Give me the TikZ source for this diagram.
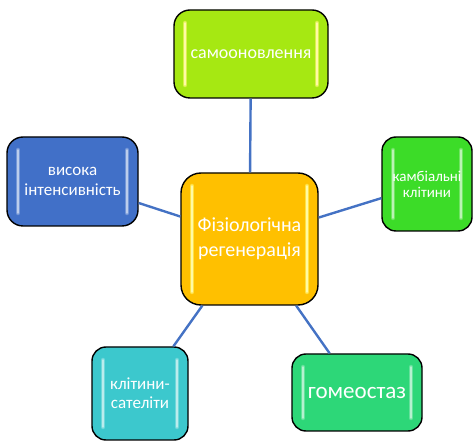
\documentclass[tikz,border=0pt]{standalone}
\usepackage{fontspec}
\setmainfont{Carlito}
\usetikzlibrary{calc}
\definecolor{clime}{HTML}{A6E812}
\definecolor{cblue}{HTML}{4170C8}
\definecolor{cgreen}{HTML}{3CDC28}
\definecolor{corange}{HTML}{FFC000}
\definecolor{cteal}{HTML}{3CC8CD}
\definecolor{cmint}{HTML}{2DD778}
\definecolor{cline}{HTML}{4472C4}
\tikzset{
  box/.style={draw=black, line width=1.4pt, rounded corners=16pt, text=white,
    align=center, inner sep=0pt},
  stripes/.style={path picture={
    \foreach \s/\d in {1/11pt,-1/-11pt}{
      \draw[#1!55!white, line width=4.5pt, line cap=round, opacity=0.6]
        ($(path picture bounding box.north)!\s!(path picture bounding box.north west)+(\d,-13pt)$) --
        ($(path picture bounding box.south)!\s!(path picture bounding box.south west)+(\d,13pt)$);
      \draw[#1!35!white, line width=1.8pt, line cap=round]
        ($(path picture bounding box.north)!\s!(path picture bounding box.north west)+(\d,-13pt)$) --
        ($(path picture bounding box.south)!\s!(path picture bounding box.south west)+(\d,13pt)$);
    }}},
  conn/.style={draw=cline, line width=2.4pt}
}
\begin{document}
\begin{tikzpicture}[x=1pt,y=-1pt]
\useasboundingbox (0,0) rectangle (474,443);
\node[box, fill=clime, stripes=yellow, minimum width=154pt, minimum height=88pt, font=\fontsize{18}{22}\selectfont] (top) at (251,54) {самооновлення};
\node[box, fill=cblue, stripes=cblue, minimum width=131pt, minimum height=89pt, font=\fontsize{17}{20}\selectfont] (left) at (72.5,181.5) {висока\\інтенсивність};
\node[box, fill=cgreen, stripes=cgreen, minimum width=90pt, minimum height=94pt, rounded corners=14pt, font=\fontsize{15}{16}\selectfont] (right) at (427,184) {камбіальні\\клітини};
\node[box, fill=corange, stripes=yellow, minimum width=137pt, minimum height=132pt, rounded corners=20pt, font=\fontsize{20}{25}\selectfont] (center) at (249.5,239) {Фізіологічна\\регенерація};
\node[box, fill=cteal, stripes=cteal, minimum width=96pt, minimum height=93pt, rounded corners=14pt, font=\fontsize{17}{19}\selectfont] (bl) at (140,393.5) {клітини-\\сателіти};
\node[box, fill=cmint, stripes=cmint, minimum width=130pt, minimum height=77pt, rounded corners=14pt, font=\fontsize{23}{26}\selectfont] (br) at (357,392.5) {гомеостаз};
\draw[conn] (center) -- (top);
\draw[conn] (center) -- (left);
\draw[conn] (center) -- (right);
\draw[conn] (center) -- (bl);
\draw[conn] (center) -- (br);
\end{tikzpicture}
\end{document}
